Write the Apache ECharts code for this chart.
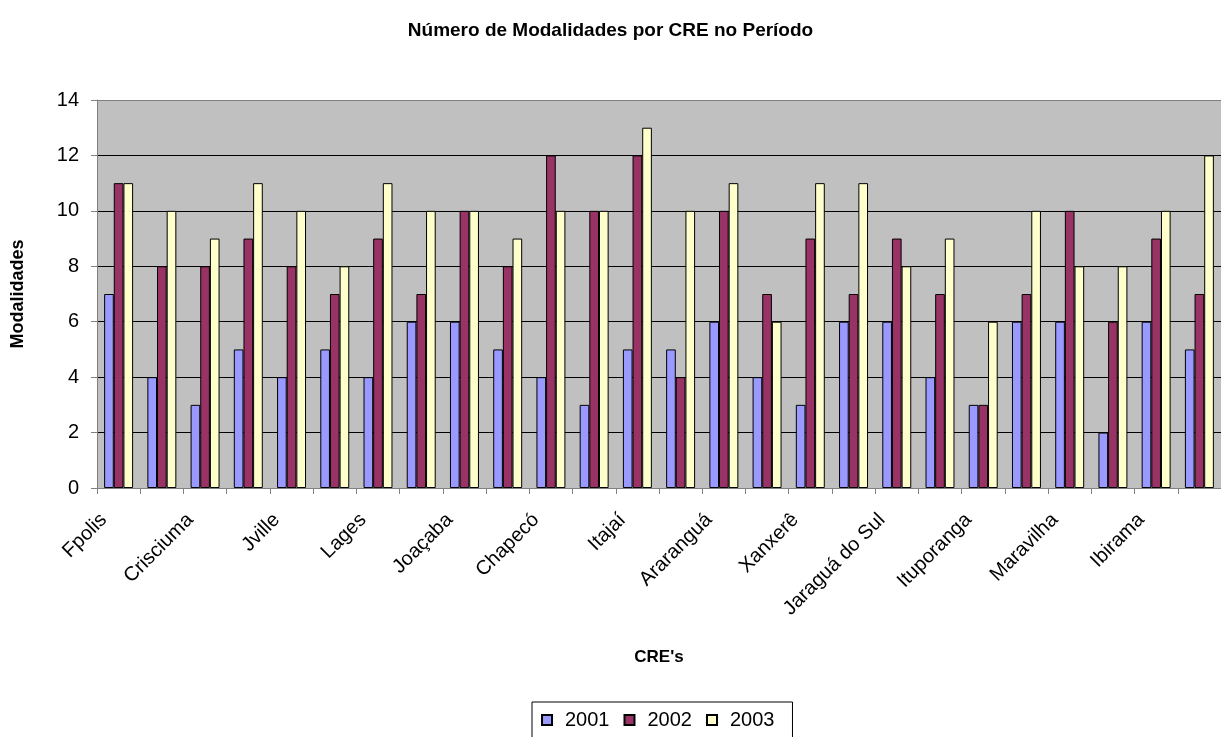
<!DOCTYPE html>
<html>
<head>
<meta charset="utf-8">
<script src="https://cdn.jsdelivr.net/npm/echarts@6/dist/echarts.min.js"></script>
<style>
  html, body { margin: 0; padding: 0; background: #fff; }
  #chart { width: 1221px; height: 737px; }
</style>
</head>
<body>
<div id="chart"></div>
<script>
  // categorias (só as ímpares aparecem no eixo)
  const cres = ['Fpolis', 'Blumenau', 'Crisciuma', 'Tubarão', 'Jville', 'Rio do Sul', 'Lages',
    'Caçador', 'Joaçaba', 'Concórdia', 'Chapecó', 'Mafra', 'Itajaí', 'Canoinhas', 'Araranguá',
    'Curitibanos', 'Xanxerê', 'S. M. do Oeste', 'Jaraguá do Sul', 'Brusque', 'Ituporanga',
    'Laguna', 'Maravilha', 'Videira', 'Ibirama', 'Campos Novos']
  const anos = ['2001', '2002', '2003']
  const v2001 = [7, 4, 3, 5, 4, 5, 4, 6, 6, 5, 4, 3, 5, 5, 6, 4, 3, 6, 6, 4, 3, 6, 6, 2, 6, 5]
  const v2002 = [11, 8, 8, 9, 8, 7, 9, 7, 10, 8, 12, 10, 12, 4, 10, 7, 9, 7, 9, 7, 3, 7, 10, 6, 9, 7]
  const v2003 = [11, 10, 9, 11, 10, 8, 11, 10, 10, 9, 10, 10, 13, 10, 11, 6, 11, 11, 8, 9, 6, 10, 8, 8, 10, 12]
  const cores = ['#9999FF', '#993366', '#FFFFCC']

  const fonte = 'Arial, "Liberation Sans", sans-serif'
  const chart = echarts.init(document.getElementById('chart'))

  const mkSerie = (i, dados) => ({
    name: anos[i],
    type: 'bar',
    data: dados,
    barGap: '0%',
    barCategoryGap: '33%',
    itemStyle: {
      color: cores[i],
      borderColor: '#000',
      borderWidth: 1
    },
    emphasis: { disabled: true }
  })

  const option = {
    animation: false,
    textStyle: { fontFamily: fonte },
    title: {
      text: 'Número de Modalidades por CRE no Período',
      left: 'center',
      top: 16,
      textStyle: { fontFamily: fonte, fontSize: 19, fontWeight: 'bold', color: '#000' }
    },
    legend: {
      data: anos,
      top: 702,
      left: 532,
      icon: 'rect',
      itemWidth: 10,
      itemHeight: 10,
      itemGap: 14,
      padding: [8, 18, 8, 9],
      borderColor: '#000',
      borderWidth: 1,
      textStyle: { fontFamily: fonte, fontSize: 20, color: '#000', padding: [0, 0, 0, 8] }
    },
    grid: {
      left: 97,
      right: -9,
      top: 100,
      bottom: 249,
      show: true,
      backgroundColor: '#C0C0C0',
      borderWidth: 0
    },
    xAxis: {
      type: 'category',
      data: cres,
      name: "CRE's",
      nameLocation: 'middle',
      nameGap: 161,
      nameTextStyle: { fontFamily: fonte, fontSize: 17, fontWeight: 'bold', color: '#000' },
      axisLine: { lineStyle: { color: '#808080', width: 1 } },
      axisTick: { show: true, interval: 0, length: 6, lineStyle: { color: '#808080' } },
      axisLabel: {
        interval: 1,
        rotate: 45,
        margin: 14,
        padding: [0, 21, 0, 0],
        fontFamily: fonte,
        fontSize: 20,
        color: '#000'
      }
    },
    yAxis: {
      type: 'value',
      min: 0,
      max: 14,
      interval: 2,
      name: 'Modalidades',
      nameLocation: 'middle',
      nameGap: 70,
      nameTextStyle: { fontFamily: fonte, fontSize: 18, fontWeight: 'bold', color: '#000' },
      axisLine: { show: true, lineStyle: { color: '#808080', width: 1 } },
      axisTick: { show: true, length: 6, lineStyle: { color: '#808080' } },
      axisLabel: { fontFamily: fonte, fontSize: 20, color: '#000', margin: 18 },
      splitLine: {
        show: true,
        lineStyle: { color: ['#000', '#000', '#000', '#000', '#000', '#000', '#000', '#808080'], width: 1 }
      }
    },
    series: [mkSerie(0, v2001), mkSerie(1, v2002), mkSerie(2, v2003)]
  }
  chart.setOption(option)
</script>
</body>
</html>
